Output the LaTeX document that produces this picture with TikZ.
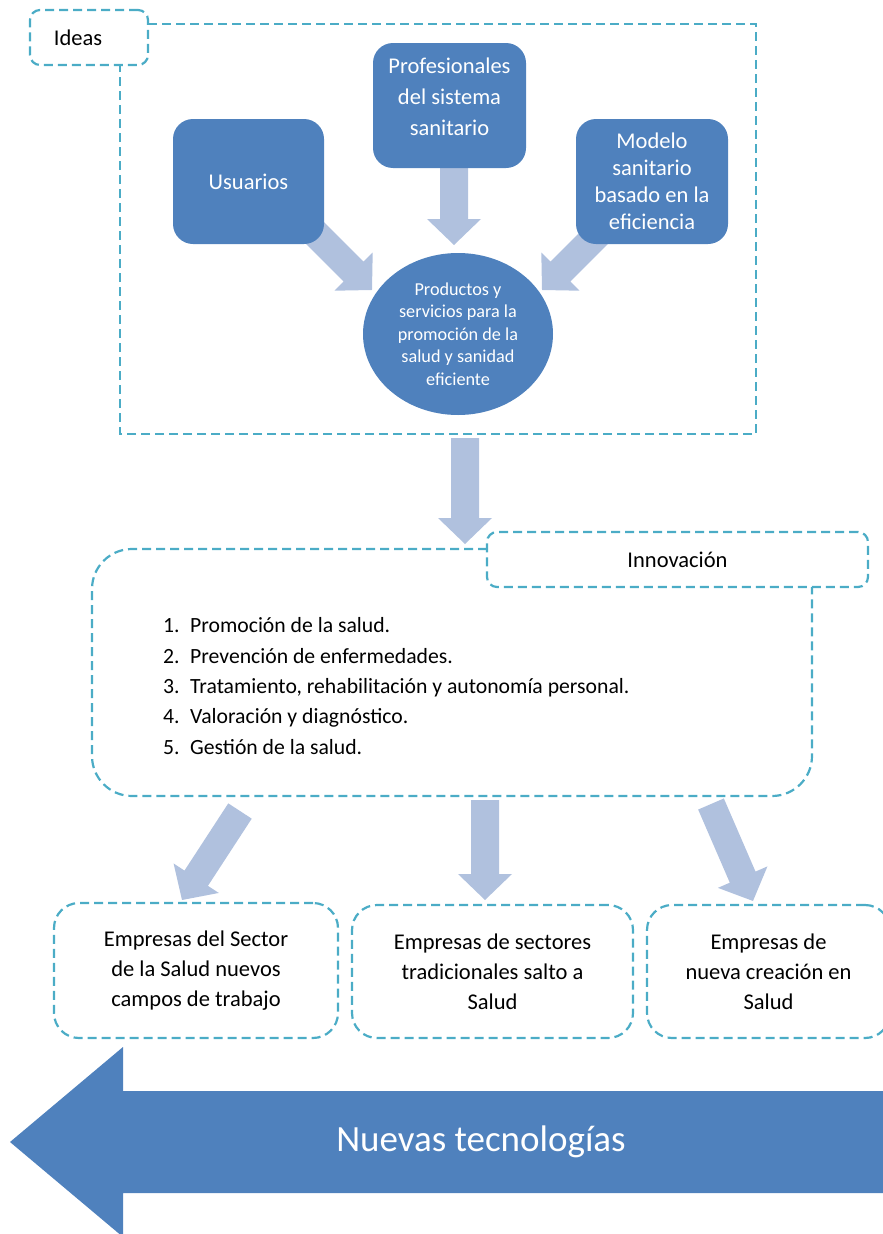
\documentclass[tikz,border=0pt]{standalone}
\usepackage{fontspec}
\setmainfont{Carlito}
\usetikzlibrary{calc,shapes.geometric}
\definecolor{dblue}{HTML}{4F81BD}
\definecolor{larrow}{HTML}{B0C1DE}
\definecolor{dashc}{HTML}{4BACC6}
% block arrow from coordinate #1 to tip at coordinate #2
\newcommand\blockarrow[2]{%
  \path let \p1=($(#2)-(#1)$) in \pgfextra{%
    \pgfmathsetmacro\baang{atan2(\y1,\x1)}%
    \pgfmathsetmacro\balen{veclen(\x1,\y1)}%
    \global\let\gbaang\baang\global\let\gbalen\balen};
  \fill[larrow, shift={(#1)}, rotate=\gbaang]
    (0pt,-14pt) -- (\gbalen pt-26pt,-14pt) -- (\gbalen pt-26pt,-27pt) -- (\gbalen pt,0pt)
    -- (\gbalen pt-26pt,27pt) -- (\gbalen pt-26pt,14pt) -- (0pt,14pt) -- cycle;
}
\begin{document}
\begin{tikzpicture}[x=1pt,y=-1pt,
  dashline/.style={draw=dashc, line width=2.2pt, dash pattern=on 9pt off 5pt},
  dashbox/.style={dashline, rounded corners=#1, inner sep=0pt, align=center, text=black},
  dbox/.style={fill=dblue, draw=none, rounded corners=20pt, inner sep=0pt, minimum width=152pt, minimum height=125pt, text=white, align=center, font=\fontsize{22.5}{31}\selectfont},
  boxtext/.style={text=white, align=center, inner sep=0pt, font=\fontsize{22.5}{31}\selectfont},
  bottomtext/.style={font=\fontsize{22.5}{30}\selectfont}]
\useasboundingbox (0,0) rectangle (883,1234);
\clip (0,0) rectangle (883,1234);

% ---------- Ideas ----------
\node[dashbox=10pt, minimum width=118pt, minimum height=55pt, font=\fontsize{22.5}{27}\selectfont] (ideas) at (89,37.5) {\makebox[118pt][l]{\hspace{24pt}Ideas}};
\coordinate (f1) at (148,24);
\coordinate (f2) at (756,24);
\coordinate (f3) at (756,434);
\coordinate (f4) at (120,434);
\coordinate (f5) at (120,65);
\draw[dashline] (f1) -- (f2) -- (f3) -- (f4) -- (f5);

% arrows towards the ellipse
\coordinate (a1s) at (300,218); \coordinate (a1e) at (372,290);
\coordinate (a2s) at (454,165); \coordinate (a2e) at (454,245);
\coordinate (a3s) at (614,218); \coordinate (a3e) at (542,290);
\blockarrow{a1s}{a1e}
\blockarrow{a2s}{a2e}
\blockarrow{a3s}{a3e}

\node[dbox, minimum width=151pt] (usu) at (248.5,181.5) {Usuarios};
\node[dbox, minimum width=153pt] (prof) at (449.5,105.5) {};
\node[boxtext] (proft) at (449.5,96.5) {Profesionales\\del sistema\\sanitario};
\node[dbox, font=\fontsize{22.5}{27}\selectfont] (mod) at (652,181.5) {Modelo\\sanitario\\basado en la\\eficiencia};
\node[ellipse, fill=dblue, inner sep=0pt, minimum width=190pt, minimum height=162pt, text=white, align=center, font=\fontsize{18.2}{22.5}\selectfont] (prod) at (458,334) {Productos y\\servicios para la\\promoción de la\\salud y sanidad\\eficiente};

% ---------- arrow down to innovation ----------
\coordinate (a4s) at (465,438); \coordinate (a4e) at (465,544);
\blockarrow{a4s}{a4e}

% ---------- Innovación ----------
\coordinate (g1) at (487,549);
\coordinate (g2) at (92,549);
\coordinate (g3) at (92,796);
\coordinate (g4) at (812,796);
\coordinate (g5) at (812,587);
\draw[dashline, rounded corners=40pt] (g1) -- (g2) -- (g3) -- (g4) -- (g5);
\node[dashbox=10pt, minimum width=381pt, minimum height=55pt, font=\fontsize{22.5}{27}\selectfont] (inno) at (677.5,559.5) {Innovación};

\node[anchor=west, align=left, inner sep=0pt, font=\fontsize{21.7}{30.3}\selectfont] (list) at (163,686)
 {\makebox[27pt][l]{1.}Promoción de la salud.\\
  \makebox[27pt][l]{2.}Prevención de enfermedades.\\
  \makebox[27pt][l]{3.}Tratamiento, rehabilitación y autonomía personal.\\
  \makebox[27pt][l]{4.}Valoración y diagnóstico.\\
  \makebox[27pt][l]{5.}Gestión de la salud.};

% ---------- arrows to companies ----------
\coordinate (a5s) at (240,811); \coordinate (a5e) at (182,900);
\coordinate (a6s) at (485,800); \coordinate (a6e) at (485,900);
\coordinate (a7s) at (711,804); \coordinate (a7e) at (753,901);
\blockarrow{a5s}{a5e}
\blockarrow{a6s}{a6e}
\blockarrow{a7s}{a7e}

\node[dashbox=25pt, minimum width=284pt, minimum height=135pt, bottomtext] (b1) at (196,970.5) {\raisebox{0pt}{Empresas del Sector}\\de la Salud nuevos\\campos de trabajo};
\node[dashbox=25pt, minimum width=281pt, minimum height=133pt, bottomtext] (b2) at (492.5,971.5) {Empresas de sectores\\tradicionales salto a\\Salud};
\node[dashbox=25pt, minimum width=243pt, minimum height=133pt, bottomtext] (b3) at (768.5,971.5) {Empresas de\\nueva creación en\\Salud};

% ---------- Nuevas tecnologías ----------
\fill[dblue] (890,1091) -- (123,1091) -- (123,1047) -- (10,1142) -- (123,1237) -- (123,1193) -- (890,1193) -- cycle;
\node[text=white, inner sep=0pt, font=\fontsize{37}{44}\selectfont] (nt) at (481,1142) {Nuevas tecnologías};
\end{tikzpicture}
\end{document}
